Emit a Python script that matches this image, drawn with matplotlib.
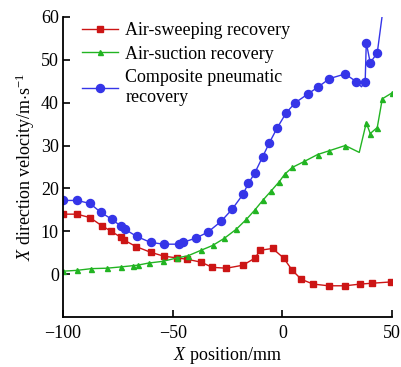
import matplotlib
matplotlib.use("Agg")
import matplotlib.pyplot as plt

plt.rcParams["font.family"] = ["Liberation Serif", "DejaVu Serif"]
plt.rcParams["mathtext.fontset"] = "custom"
plt.rcParams["mathtext.rm"] = "Liberation Serif"
plt.rcParams["mathtext.it"] = "Liberation Serif:italic"

# air-sweeping recovery
sweep_x = [-100, -93.6, -87.7, -82.3, -78, -73.6, -72, -66.5, -60, -54, -48, -43.6,
           -37, -32, -25.5, -18, -12.7, -10, -4.5, 0.5, 4.5, 8.6, 14, 21, 28.6, 35.5, 41, 49.5]
sweep_y = [14, 14, 13.2, 11.3, 10, 8.6, 7.9, 6.4, 5.1, 4.2, 3.8, 3.5,
           2.8, 1.6, 1.4, 2.1, 3.7, 5.6, 6.0, 3.8, 0.9, -1.2, -2.3, -2.7, -2.7, -2.3, -2.1, -1.8]

# air-suction recovery
suction_x = [-100, -93.6, -87, -80, -73.6, -68, -66, -61, -54.5, -48, -43, -37, -31.8,
             -26.4, -21, -16.4, -12.7, -9, -5, -1.4, 1, 4.5, 10, 16, 21.4, 28.6, 35,
             38.2, 40, 43.2, 45.5, 50]
suction_y = [0.7, 0.9, 1.3, 1.4, 1.7, 2.0, 2.1, 2.6, 3.0, 3.8, 4.3, 5.6, 6.7,
             8.4, 10.5, 12.8, 14.9, 17.2, 19.5, 21.6, 23.3, 24.9, 26.3, 27.9, 28.8, 30, 28.4,
             35.3, 32.8, 34.2, 40.9, 42.3]

# composite pneumatic recovery
comp_x = [-100, -93.6, -87.7, -82.7, -77.7, -73.6, -71.8, -66.4, -60, -54, -47.3, -45.5,
          -39.5, -34, -28, -23, -18, -15.5, -12.7, -9, -5.9, -2.3, 1.8, 5.9, 11.8, 16.4,
          21.4, 28.6, 33.6, 36, 37.7, 38.2, 40, 43.2, 45.5]
comp_y = [17.2, 17.2, 16.5, 14.4, 12.8, 11.2, 10.5, 8.8, 7.4, 7.0, 7.0, 7.4,
          8.4, 9.8, 12.3, 15.1, 18.6, 21.2, 23.5, 27.4, 30.7, 34.2, 37.7, 40, 42.1, 43.7,
          45.6, 46.7, 44.9, 43.7, 44.9, 54, 49.3, 51.6, 60.5]

fig = plt.figure(figsize=(4.01, 3.67), dpi=100)
ax = fig.add_axes([0.157, 0.136, 0.821, 0.818])

red, green, blue = "#cc1515", "#22b422", "#3535e8"
ax.plot(sweep_x, sweep_y, color=red, lw=1.0, marker="s", ms=4.3,
        label="Air-sweeping recovery")
ax.plot(suction_x, suction_y, color=green, lw=1.0, marker="^", ms=3.6,
        markevery=[i for i in range(len(suction_x)) if i != 26],
        label="Air-suction recovery")
ax.plot(comp_x, comp_y, color=blue, lw=1.0, marker="o", ms=5.8,
        markevery=[i for i in range(len(comp_x)) if i not in (29, 34)],
        label="Composite pneumatic\nrecovery")

ax.set_xlim(-100, 50)
ax.set_ylim(-10, 60)
ax.set_xticks([-100, -50, 0, 50])
ax.set_yticks([0, 10, 20, 30, 40, 50, 60])
ax.set_xticklabels(["\u2212100", "\u221250", "0", "50"])
ax.tick_params(direction="in", length=5, width=1.2, labelsize=13)
ax.tick_params(axis="y", pad=3)
ax.tick_params(axis="x", pad=6)
for s in ("top", "right"):
    ax.spines[s].set_visible(False)
for s in ("left", "bottom"):
    ax.spines[s].set_linewidth(1.3)

ax.set_xlabel(r"$\it{X}$ position/mm", fontsize=13, labelpad=2)
ax.set_ylabel(r"$\it{X}$ direction velocity/m$\cdot$s$^{-1}$", fontsize=13, labelpad=3)

ax.legend(loc="upper left", frameon=False, fontsize=13, handlelength=2.0,
          handletextpad=0.4, labelspacing=0.36, borderaxespad=0.2,
          bbox_to_anchor=(0.025, 1.018))

fig.savefig("out.png", dpi=100)
